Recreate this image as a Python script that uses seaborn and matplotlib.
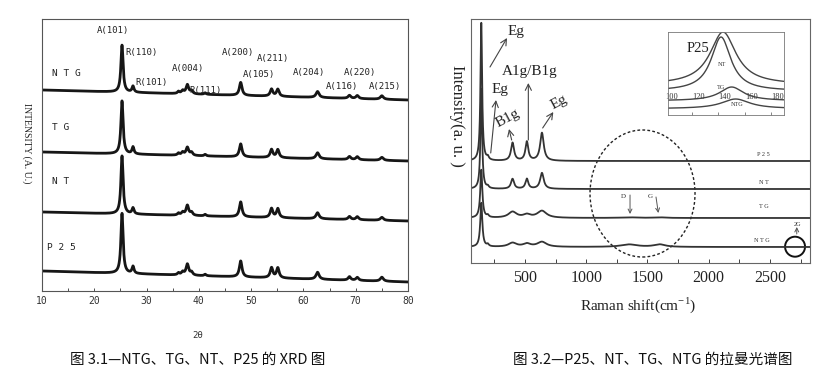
import numpy as np
import pandas as pd
import matplotlib
matplotlib.use('Agg')
import matplotlib.pyplot as plt
import seaborn as sns
from matplotlib.patches import Ellipse
from matplotlib.ticker import MultipleLocator, FixedLocator

sns.set_style('ticks')
plt.rcParams['font.family'] = ['DejaVu Sans', 'Noto Sans CJK SC']

# ---------------- XRD (left) ----------------
xrd_samples = ['NTG', 'TG', 'NT', 'P25']
# peak positions (2theta) and widths (FWHM)
xrd_pos = [25.3, 27.4, 36.1, 36.9, 37.8, 38.6, 41.2, 48.0, 53.9, 55.1, 62.7, 68.8, 70.3, 75.0]
xrd_fwhm = [0.5, 0.45, 0.45, 0.55, 0.6, 0.55, 0.45, 0.6, 0.6, 0.6, 0.7, 0.6, 0.6, 0.7]
# peak heights
xrd_ntg = [47, 6, 2, 3, 9, 3, 1.5, 13, 7, 7, 6, 3, 3, 3.5]
xrd_tg = [53, 7, 2, 3, 8, 3, 1.5, 13, 8, 8, 6, 3, 3, 3]
xrd_nt = [58, 6, 2, 3, 10, 3, 1.5, 15, 9, 9, 6, 3, 3, 3]
xrd_p25 = [60, 7, 2, 3, 11, 3, 1.5, 16, 10, 10, 7, 3.5, 3, 4]
# baseline of each trace at 2theta=10 and 2theta=80 (stacked offsets)
xrd_base_start = [201, 139, 79, 20]
xrd_base_end = [191, 130, 70, 9]
xrd_ticks = [10, 20, 30, 40, 50, 60, 70, 80]

# ---------------- Raman (right) ----------------
raman_samples = ['P25', 'NT', 'TG', 'NTG']
raman_pos = [144, 197, 399, 516, 639, 1350, 1600]
raman_fwhm_sharp = [16, 20, 30, 28, 35, 150, 100]
raman_fwhm_broad = [20, 20, 80, 70, 90, 160, 110]
raman_p25 = [138, 3, 18, 19, 28, 0, 0]
raman_nt = [100, 2, 10, 10, 16, 0, 0]
raman_tg = [48, 2, 6, 3, 7, 0.6, 0.6]
raman_ntg = [44, 2, 4, 3, 5, 2.5, 2.5]
raman_base = [102, 74, 45, 16]
raman_ticks = [500, 1000, 1500, 2000, 2500]

# inset: Eg peak region
inset_samples = ['P25', 'NT', 'TG', 'NTG']
inset_center = [138.5, 137, 145, 148]
inset_hwhm = [12, 9, 11, 13]
inset_height = [52.7, 54, 13.8, 9.7]
inset_offset = [30.3, 24, 14.2, 6.3]
inset_ticks = [100, 120, 140, 160, 180]


def lorentz_sum(x, pos, heights, fwhm):
    y = np.zeros_like(x)
    for p, h, w in zip(pos, heights, fwhm):
        g = w / 2
        y += h * g ** 2 / ((x - p) ** 2 + g ** 2)
    return y


# build long tables
tt = np.linspace(10, 80, 6000)
rows = []
for s, hs, b0, b1 in zip(xrd_samples, [xrd_ntg, xrd_tg, xrd_nt, xrd_p25],
                         xrd_base_start, xrd_base_end):
    base = b0 + (b1 - b0) * (tt - 10) / 70
    rows.append(pd.DataFrame({'two_theta': tt,
                              'intensity': base + lorentz_sum(tt, xrd_pos, hs, xrd_fwhm),
                              'sample': s}))
df_xrd = pd.concat(rows)

rs = np.linspace(60, 2827, 5000)
rows = []
for s, hs, w, b in zip(raman_samples, [raman_p25, raman_nt, raman_tg, raman_ntg],
                       [raman_fwhm_sharp, raman_fwhm_sharp, raman_fwhm_broad, raman_fwhm_broad],
                       raman_base):
    rows.append(pd.DataFrame({'shift': rs,
                              'intensity': b + lorentz_sum(rs, raman_pos, hs, w),
                              'sample': s}))
df_raman = pd.concat(rows)

xi = np.linspace(97, 184.5, 800)
rows = []
for s, c, g, h, o in zip(inset_samples, inset_center, inset_hwhm, inset_height, inset_offset):
    rows.append(pd.DataFrame({'shift': xi,
                              'intensity': o + h * g ** 2 / ((xi - c) ** 2 + g ** 2),
                              'sample': s}))
df_inset = pd.concat(rows)

# ---------------- figure ----------------
fig = plt.figure(figsize=(8.28, 3.71), dpi=100)
ax1 = fig.add_axes([42 / 828, 1 - 291 / 371, 366 / 828, 272 / 371])
ax2 = fig.add_axes([471 / 828, 1 - 263 / 371, 339 / 828, 244 / 371])
axi = fig.add_axes([668 / 828, 1 - 115 / 371, 116 / 828, 83 / 371])

mono = 'DejaVu Sans Mono'
serif = 'Liberation Serif'

# left panel
sns.lineplot(data=df_xrd, x='two_theta', y='intensity', hue='sample',
             palette={s: '#161616' for s in xrd_samples}, legend=False,
             estimator=None, sort=False, lw=2.0, ax=ax1)
ax1.set_xlim(10, 80)
ax1.set_ylim(0, 272)
ax1.set_yticks([])
ax1.set_xticks(xrd_ticks)
ax1.xaxis.set_minor_locator(MultipleLocator(5))
ax1.tick_params(axis='x', which='both', direction='in', length=2.5, width=0.6,
                labelsize=7, pad=3.5, colors='#333', labelfontfamily=mono)
ax1.set_xlabel('')
ax1.set_ylabel('')
for sp in ax1.spines.values():
    sp.set_linewidth(0.8)
    sp.set_color('#555')

for txt, x, y in [('N T G', 11.9, 218), ('T G', 11.9, 163),
                  ('N T', 11.9, 110), ('P 2 5', 11.0, 43)]:
    ax1.text(x, y, txt, fontsize=6.8, family=mono, ha='left', va='center', color='#222')

hkl = [('A(101)', 23.5, 261), ('R(110)', 29.1, 238), ('R(101)', 31.0, 208),
       ('A(004)', 37.9, 223), ('R(111)', 41.3, 201), ('A(200)', 47.5, 238),
       ('A(211)', 54.2, 232), ('A(105)', 51.5, 216), ('A(204)', 61.1, 218),
       ('A(220)', 70.9, 218), ('A(116)', 67.4, 204), ('A(215)', 75.6, 205)]
for txt, x, y in hkl:
    ax1.text(x, y, txt, fontsize=6.5, family=mono, ha='center', va='center', color='#222')

fig.text(27 / 828, 1 - 143 / 371, 'INTENSITY (A. U.)', rotation=270, fontsize=7,
         family=serif, ha='center', va='center', color='#222')
fig.text(198 / 828, 1 - 335 / 371, '2θ', fontsize=6.5, family=mono,
         ha='center', va='center', color='#333')
fig.text(198 / 828, 1 - 360 / 371, '图 3.1—NTG、TG、NT、P25 的 XRD 图', fontsize=10.5,
         family=['Noto Sans CJK SC', 'DejaVu Sans'], ha='center', va='center', color='#111')

# right panel
sns.lineplot(data=df_raman, x='shift', y='intensity', hue='sample',
             palette={s: '#333333' for s in raman_samples}, legend=False,
             estimator=None, sort=False, lw=1.3, ax=ax2)
ax2.set_xlim(60, 2827)
ax2.set_ylim(0, 244)
ax2.set_yticks([])
ax2.set_xticks(raman_ticks)
ax2.xaxis.set_minor_locator(MultipleLocator(250))
ax2.tick_params(axis='x', which='both', direction='in', length=3, width=0.6,
                labelsize=11.5, pad=5, colors='#222', labelfontfamily=serif)
ax2.set_xlabel('')
ax2.set_ylabel('')
for sp in ax2.spines.values():
    sp.set_linewidth(0.8)
    sp.set_color('#666')

fig.text(457 / 828, 1 - 116 / 371, 'Intensity(a. u. )', rotation=270, fontsize=12,
         family=serif, ha='center', va='center', color='#222')
fig.text(638 / 828, 1 - 305 / 371, 'Raman shift(cm$^{\\mathregular{-1}}$)', fontsize=11,
         family=serif, ha='center', va='center', color='#222')
fig.text(653 / 828, 1 - 360 / 371, '图 3.2—P25、NT、TG、NTG 的拉曼光谱图', fontsize=10.5,
         family=['Noto Sans CJK SC', 'DejaVu Sans'], ha='center', va='center', color='#111')

arrow = dict(arrowstyle='->', lw=0.8, color='#444', mutation_scale=11, shrinkA=0, shrinkB=0)
for (x0, y0), (x1, y1) in [((215, 196), (354, 225)), ((221, 110), (264, 163)),
                           ((392, 123), (370, 134)), ((528, 123), (528, 180)),
                           ((645, 135), (732, 151))]:
    ax2.annotate('', xy=(x1, y1), xytext=(x0, y0), arrowprops=arrow)
ax2.text(427, 231, 'Eg', fontsize=11, family=serif, ha='center', va='center', color='#222')
ax2.text(297, 173, 'Eg', fontsize=11, family=serif, ha='center', va='center', color='#222')
ax2.text(362, 145, 'B1g', fontsize=11, family=serif, ha='center', va='center',
         rotation=28, color='#222')
ax2.text(542, 191, 'A1g/B1g', fontsize=11, family=serif, ha='center', va='center', color='#222')
ax2.text(781, 161, 'Eg', fontsize=11, family=serif, ha='center', va='center',
         rotation=28, color='#222')

ax2.add_patch(Ellipse((1460, 69.5), 857, 127, fill=False, lw=1.0, color='#222',
                      ls=(0, (2, 1.6))))
small = dict(arrowstyle='->', lw=0.7, color='#555', mutation_scale=7, shrinkA=0, shrinkB=0)
ax2.annotate('', xy=(1358, 49), xytext=(1358, 68), arrowprops=small)
ax2.annotate('', xy=(1589, 50), xytext=(1570, 66), arrowprops=small)
ax2.text(1303, 67, 'D', fontsize=5, family=serif, ha='center', va='center', color='#333')
ax2.text(1521, 67, 'G', fontsize=5, family=serif, ha='center', va='center', color='#333')
ax2.annotate('', xy=(2719, 36), xytext=(2719, 29), arrowprops=small)
ax2.text(2727, 39, '2G', fontsize=4.5, family=serif, ha='center', va='center', color='#333')
ax2.add_patch(Ellipse((2705, 16.3), 163, 20, fill=False, lw=1.4, color='#111'))
for txt, x, y in [('P 2 5', 2447, 108), ('N T', 2447, 81), ('T G', 2447, 56),
                  ('N T G', 2433, 23)]:
    ax2.text(x, y, txt, fontsize=4.5, family=serif, ha='center', va='center', color='#333')

# inset
sns.lineplot(data=df_inset, x='shift', y='intensity', hue='sample',
             palette={s: '#444444' for s in inset_samples}, legend=False,
             estimator=None, sort=False, lw=1.0, ax=axi)
axi.set_xlim(97, 184.5)
axi.set_ylim(0, 83)
axi.set_yticks([])
axi.set_xticks(inset_ticks)
axi.xaxis.set_minor_locator(FixedLocator([115, 135, 155, 175]))
axi.tick_params(axis='x', which='major', length=0, pad=-15.5, labelsize=6,
                colors='#333', labelfontfamily=serif)
axi.tick_params(axis='x', which='minor', direction='in', length=2, width=0.5, colors='#555')
axi.set_xlabel('')
axi.set_ylabel('')
for sp in axi.spines.values():
    sp.set_linewidth(0.6)
    sp.set_color('#777')
axi.text(119.9, 66.7, 'P25', fontsize=10.5, family=serif, ha='center', va='center', color='#222')
axi.text(137.5, 50.7, 'NT', fontsize=4.5, family=serif, ha='center', va='center', color='#333')
axi.text(137, 27.3, 'TG', fontsize=4.5, family=serif, ha='center', va='center', color='#333')
axi.text(149.3, 10.7, 'NTG', fontsize=4.5, family=serif, ha='center', va='center', color='#333')

fig.savefig('out.png', dpi=100)
